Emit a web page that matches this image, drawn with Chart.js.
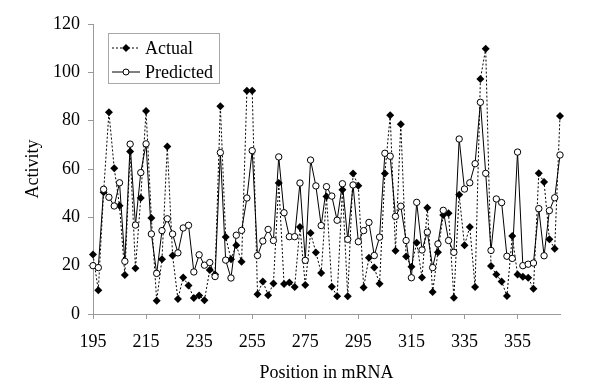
<!DOCTYPE html>
<html>
<head>
<meta charset="utf-8">
<title>Activity vs position in mRNA</title>
<script src="https://cdn.jsdelivr.net/npm/chart.js@4.4.1/dist/chart.umd.min.js"></script>
<style>
  html, body { margin: 0; padding: 0; background: #fff; }
  #wrap { width: 600px; height: 392px; }
</style>
</head>
<body>
<div id="wrap"><canvas id="activityChart" width="600" height="392"></canvas></div>
<script>
// positions in the mRNA (every 2nd nucleotide)
const positions = [
  195, 197, 199, 201, 203, 205, 207, 209, 211, 213,
  215, 217, 219, 221, 223, 225, 227, 229, 231, 233,
  235, 237, 239, 241, 243, 245, 247, 249, 251, 253,
  255, 257, 259, 261, 263, 265, 267, 269, 271, 273,
  275, 277, 279, 281, 283, 285, 287, 289, 291, 293,
  295, 297, 299, 301, 303, 305, 307, 309, 311, 313,
  315, 317, 319, 321, 323, 325, 327, 329, 331, 333,
  335, 337, 339, 341, 343, 345, 347, 349, 351, 353,
  355, 357, 359, 361, 363, 365, 367, 369, 371
];

const actual = [
  24.6, 9.8, 50.4, 83.5, 60.3, 44.8, 16.1, 67.2, 18.9, 48.0,
  84.0, 39.7, 5.5, 22.7, 69.3, 24.2, 6.2, 15.1, 11.8, 6.6,
  7.7, 5.7, 18.2, 16.3, 86.0, 31.9, 22.7, 28.5, 21.6, 92.4,
  92.4, 8.2, 13.5, 7.8, 12.6, 54.2, 12.4, 13.0, 11.2, 36.0,
  12.0, 33.5, 25.5, 17.0, 48.6, 11.3, 7.3, 51.4, 7.3, 58.1,
  53.1, 11.0, 23.3, 19.2, 12.5, 58.1, 82.2, 26.2, 78.5, 23.8,
  19.6, 29.5, 15.1, 44.0, 9.1, 25.6, 41.0, 41.7, 6.7, 49.3,
  28.4, 36.0, 11.2, 97.2, 109.8, 19.9, 16.3, 13.5, 7.4, 32.3,
  16.3, 15.4, 15.0, 10.5, 58.2, 54.6, 30.9, 27.0, 81.9
];

const predicted = [
  20.0, 19.2, 51.6, 48.3, 44.7, 54.3, 21.8, 70.3, 36.8, 58.5,
  70.4, 33.1, 16.8, 34.5, 39.4, 33.1, 25.3, 35.6, 36.7, 17.4,
  24.5, 20.2, 21.3, 15.5, 66.8, 22.3, 14.9, 32.6, 34.6, 48.0,
  67.6, 24.2, 30.2, 35.0, 30.4, 65.0, 41.9, 32.0, 32.0, 54.2,
  22.2, 63.7, 53.0, 36.6, 52.7, 48.8, 38.8, 53.9, 30.9, 53.4,
  29.9, 34.5, 37.9, 24.2, 31.8, 66.5, 65.3, 40.4, 44.6, 30.4,
  15.0, 46.2, 26.5, 33.9, 19.2, 29.0, 42.9, 30.4, 25.5, 72.4,
  51.7, 54.3, 62.2, 87.6, 58.2, 26.3, 47.6, 46.1, 23.9, 23.0,
  67.0, 20.0, 20.6, 21.1, 43.6, 24.1, 42.8, 48.1, 65.8
];

const xTicks = [195, 215, 235, 255, 275, 295, 315, 335, 355];
const yTicks = [0, 20, 40, 60, 80, 100, 120];

const FONT = "'Liberation Serif', 'Times New Roman', serif";
const AXIS_GREY = "#9a9a9a";

function toPoints(values) {
  return values.map((v, i) => ({ x: positions[i], y: v }));
}

// legend box drawn inside the plot, top left
const insideLegend = {
  id: "insideLegend",
  afterDraw(chart) {
    const ctx = chart.ctx;
    const left = 108, top = 33, w = 111, h = 50;
    ctx.save();
    ctx.fillStyle = "#fff";
    ctx.fillRect(left, top, w, h);
    ctx.strokeStyle = "#a8a8a8";
    ctx.lineWidth = 1;
    ctx.strokeRect(left + 0.5, top + 0.5, w, h);

    chart.data.datasets.forEach((ds, i) => {
      const y = top + 15 + i * 24;
      ctx.beginPath();
      ctx.strokeStyle = "#000";
      ctx.setLineDash(ds.borderDash || []);
      ctx.moveTo(112, y);
      ctx.lineTo(140, y);
      ctx.stroke();
      ctx.setLineDash([]);

      ctx.beginPath();
      if (ds.pointStyle === "rectRot") {
        const r = 4;
        ctx.moveTo(126, y - r);
        ctx.lineTo(126 + r, y);
        ctx.lineTo(126, y + r);
        ctx.lineTo(126 - r, y);
        ctx.closePath();
        ctx.fillStyle = "#000";
        ctx.fill();
      } else {
        ctx.arc(126, y, 3, 0, Math.PI * 2);
        ctx.fillStyle = "#fff";
        ctx.fill();
        ctx.strokeStyle = "#000";
        ctx.stroke();
      }

      ctx.fillStyle = "#000";
      ctx.font = "18px " + FONT;
      ctx.textBaseline = "middle";
      ctx.textAlign = "left";
      ctx.fillText(ds.label, 145, y + 1);
    });
    ctx.restore();
  }
};

const ctx = document.getElementById("activityChart").getContext("2d");

new Chart(ctx, {
  type: "line",
  data: {
    datasets: [
      {
        label: "Actual",
        data: toPoints(actual),
        borderColor: "#000",
        borderWidth: 1,
        borderDash: [2, 2],
        backgroundColor: "#000",
        pointStyle: "rectRot",
        pointRadius: 4,
        pointBackgroundColor: "#000",
        pointBorderColor: "#000",
        pointBorderWidth: 0,
        tension: 0,
        fill: false,
        clip: false,
        order: 1
      },
      {
        label: "Predicted",
        data: toPoints(predicted),
        borderColor: "#000",
        borderWidth: 1,
        backgroundColor: "#fff",
        pointStyle: "circle",
        pointRadius: 3.2,
        pointBackgroundColor: "#fff",
        pointBorderColor: "#000",
        pointBorderWidth: 1,
        tension: 0,
        fill: false,
        clip: false,
        order: 0
      }
    ]
  },
  options: {
    responsive: false,
    animation: false,
    layout: { padding: { top: 24, right: 40, left: 0, bottom: 0 } },
    plugins: {
      legend: { display: false },
      tooltip: { enabled: false }
    },
    scales: {
      x: {
        type: "linear",
        min: 195,
        max: 371,
        afterBuildTicks: scale => { scale.ticks = xTicks.map(v => ({ value: v })); },
        afterFit: scale => { scale.height = 78; },
        grid: { drawOnChartArea: false, tickLength: 5, color: AXIS_GREY },
        border: { color: AXIS_GREY },
        ticks: {
          color: "#000",
          padding: 12,
          maxRotation: 0,
          font: { family: FONT, size: 18 }
        },
        title: {
          display: true,
          text: "Position in mRNA",
          color: "#000",
          padding: { top: 0, bottom: 8 },
          font: { family: FONT, size: 18 }
        }
      },
      y: {
        min: 0,
        max: 120,
        afterBuildTicks: scale => { scale.ticks = yTicks.map(v => ({ value: v })); },
        afterFit: scale => { scale.width = 93; },
        grid: { drawOnChartArea: false, tickLength: 5, color: AXIS_GREY },
        border: { color: AXIS_GREY },
        ticks: {
          color: "#000",
          padding: 8,
          font: { family: FONT, size: 18 }
        },
        title: {
          display: true,
          text: "Activity",
          color: "#000",
          padding: { top: 22, bottom: 0 },
          font: { family: FONT, size: 18 }
        }
      }
    }
  },
  plugins: [insideLegend]
});
</script>
</body>
</html>
